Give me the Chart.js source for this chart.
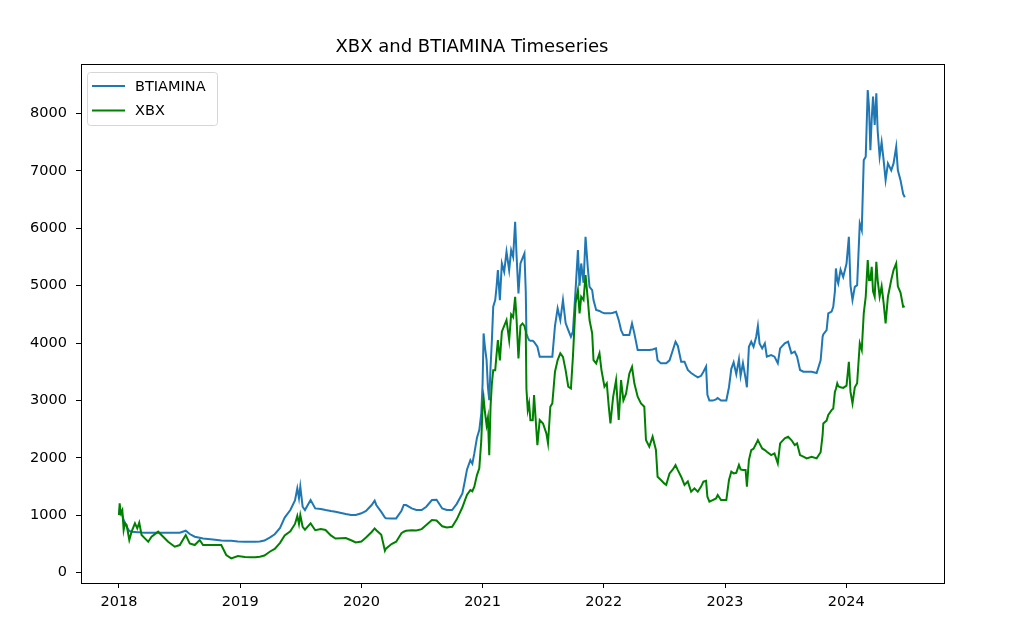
<!DOCTYPE html>
<html>
<head>
<meta charset="utf-8">
<title>XBX and BTIAMINA Timeseries</title>
<script src="https://cdn.jsdelivr.net/npm/chart.js@4.4.1/dist/chart.umd.min.js"></script>
<style>
  html, body { margin: 0; padding: 0; background: #fff; }
  #wrap { width: 1009px; height: 631px; }
</style>
</head>
<body>
<div id="wrap"><canvas id="chart" width="1009" height="631"></canvas></div>
<script>
// sample dates (roughly semi-monthly plus the spikes)
const dates2018 = ['2018-01-01','2018-01-03','2018-01-06','2018-01-11','2018-01-15','2018-01-19','2018-01-24','2018-02-01','2018-02-08','2018-02-18','2018-02-25','2018-03-03','2018-03-10','2018-03-20','2018-03-30','2018-04-09','2018-04-29','2018-05-14','2018-05-29','2018-06-18','2018-07-03','2018-07-21','2018-08-02','2018-08-17','2018-09-01','2018-09-11','2018-10-11','2018-11-05','2018-11-20','2018-12-05','2018-12-25'];
const dates2019 = ['2019-01-15','2019-02-01','2019-02-15','2019-03-01','2019-03-15','2019-04-01','2019-04-15','2019-05-01','2019-05-15','2019-06-01','2019-06-15','2019-06-22','2019-06-27','2019-07-01','2019-07-08','2019-07-15','2019-08-01','2019-08-15','2019-09-01','2019-09-15','2019-10-01','2019-10-15','2019-11-01','2019-11-15','2019-12-01','2019-12-15'];
const dates2020 = ['2020-01-01','2020-01-15','2020-02-01','2020-02-10','2020-02-15','2020-03-01','2020-03-12','2020-03-15','2020-04-01','2020-04-15','2020-05-01','2020-05-08','2020-05-15','2020-06-01','2020-06-15','2020-07-01','2020-07-15','2020-08-01','2020-08-15','2020-09-01','2020-09-15','2020-10-01','2020-10-15','2020-11-01','2020-11-08','2020-11-15','2020-11-25','2020-12-01','2020-12-07','2020-12-15','2020-12-22','2020-12-28'];
const dates2021a = ['2021-01-01','2021-01-04','2021-01-08','2021-01-13','2021-01-17','2021-01-21','2021-01-25','2021-01-29','2021-02-02','2021-02-08','2021-02-12','2021-02-16','2021-02-22','2021-02-28','2021-03-07','2021-03-14','2021-03-22','2021-03-28','2021-04-03','2021-04-09','2021-04-13','2021-04-19','2021-04-25','2021-05-01','2021-05-07','2021-05-11','2021-05-13','2021-05-17','2021-05-21','2021-05-25','2021-06-01','2021-06-05','2021-06-15'];
const dates2021b = ['2021-06-22','2021-07-02','2021-07-12','2021-07-17','2021-07-24','2021-07-30','2021-08-07','2021-08-15','2021-08-23','2021-08-31','2021-09-08','2021-09-16','2021-09-24','2021-09-30','2021-10-08','2021-10-15','2021-10-20','2021-10-25','2021-11-01','2021-11-07','2021-11-14','2021-11-19','2021-11-27','2021-12-01','2021-12-09','2021-12-19','2021-12-25'];
const dates2022 = ['2022-01-03','2022-01-10','2022-01-16','2022-01-21','2022-01-29','2022-02-07','2022-02-15','2022-02-22','2022-03-01','2022-03-09','2022-03-19','2022-03-27','2022-04-03','2022-04-13','2022-04-23','2022-05-03','2022-05-08','2022-05-18','2022-05-28','2022-06-07','2022-06-12','2022-06-22','2022-07-02','2022-07-08','2022-07-18','2022-07-28','2022-08-05','2022-08-12','2022-08-22','2022-09-01','2022-09-11','2022-09-21','2022-10-01','2022-10-11','2022-10-21','2022-10-28','2022-11-05','2022-11-09','2022-11-15','2022-11-25','2022-12-05','2022-12-10','2022-12-20'];
const dates2023 = ['2023-01-05','2023-01-13','2023-01-20','2023-01-27','2023-02-04','2023-02-12','2023-02-17','2023-02-24','2023-03-04','2023-03-08','2023-03-14','2023-03-21','2023-03-28','2023-04-05','2023-04-10','2023-04-15','2023-04-23','2023-05-01','2023-05-07','2023-05-20','2023-05-30','2023-06-09','2023-06-16','2023-06-30','2023-07-10','2023-07-20','2023-07-30','2023-08-06','2023-08-15','2023-08-25','2023-09-04','2023-09-19','2023-10-04','2023-10-16','2023-10-22','2023-10-24','2023-11-03','2023-11-08','2023-11-18','2023-11-23','2023-11-28','2023-12-01','2023-12-05','2023-12-08','2023-12-15','2023-12-23'];
const dates2024 = ['2024-01-02','2024-01-09','2024-01-14','2024-01-20','2024-01-27','2024-02-03','2024-02-11','2024-02-17','2024-02-23','2024-02-29','2024-03-06','2024-03-10','2024-03-14','2024-03-18','2024-03-22','2024-03-27','2024-04-01','2024-04-05','2024-04-11','2024-04-17','2024-04-23','2024-04-29','2024-05-06','2024-05-16','2024-05-23','2024-05-31','2024-06-05','2024-06-13','2024-06-21','2024-06-26'];

// BTIAMINA values, same order as the dates
const bti2018 = [1005,1100,1035,1000,918,870,800,726,715,709,705,703,700,697,697,697,697,697,697,697,697,732,674,627,610,595,580,563,557,557,545];
const bti2019 = [540,540,540,545,560,615,670,780,960,1092,1260,1470,1300,1499,1150,1092,1266,1121,1110,1092,1075,1063,1040,1022,1005,1005];
const bti2020 = [1035,1075,1179,1254,1180,1060,960,950,946,946,1080,1180,1179,1120,1092,1092,1150,1266,1270,1120,1092,1092,1200,1380,1585,1800,1960,1900,2078,2350,2484,2774];
const bti2021a = [3300,4168,3936,3704,3238,3006,3587,4052,4633,4749,4981,5271,4749,5387,5242,5590,5271,5619,5500,6114,5560,4865,5387,5474,5561,4900,4168,4100,4052,4040,4040,4020,3936];
const bti2021b = [3763,3763,3763,3763,3763,3763,4300,4604,4400,4749,4350,4227,4111,4200,4923,5620,5000,5387,5050,5853,5300,4981,4923,4750,4576,4560,4540];
const bti2022 = [4518,4518,4518,4518,4530,4545,4400,4227,4140,4140,4140,4344,4170,3879,3879,3879,3879,3879,3890,3908,3700,3647,3648,3648,3700,3880,4024,3950,3677,3677,3532,3480,3440,3403,3430,3500,3590,3100,2999,2999,3020,3045,3000];
const bti2023 = [2999,3231,3552,3665,3460,3720,3430,3650,3384,3231,3937,4024,3937,4111,4298,3995,3908,3995,3764,3790,3764,3648,3908,3995,4024,3822,3850,3764,3532,3503,3502,3502,3480,3700,4110,4150,4226,4517,4550,4633,4900,5300,5100,5040,5280,5150];
const bti2024 = [5387,5851,5000,4750,4980,5010,6084,5968,7187,7245,8409,8100,7361,7900,8293,7800,8351,7700,7245,7500,7187,6839,7130,7010,7130,7419,7010,6839,6600,6540];

// XBX values, same order as the dates
const xbx2018 = [1005,1209,1035,1092,744,860,831,570,715,860,773,872,657,599,540,627,715,627,540,453,482,657,512,482,570,482,482,482,308,250,291];
const xbx2019 = [275,268,268,280,300,370,415,520,650,720,850,990,850,1005,800,750,859,740,760,745,650,595,600,605,565,528];
const xbx2020 = [545,615,710,772,740,660,383,420,500,540,690,714,730,740,735,760,830,917,910,810,790,800,930,1140,1250,1360,1440,1420,1500,1700,1817,2300];
const xbx2021a = [2900,3050,2800,2571,2700,2049,2900,3300,3529,3529,3800,4052,3700,4200,4300,4400,4050,4500,4450,4807,4450,3733,4300,4342,4300,4200,3200,2834,2950,2658,2658,3093,2223];
const xbx2021b = [2660,2600,2428,2254,2892,2950,3502,3705,3821,3760,3530,3240,3210,3760,4692,4923,4518,4807,4750,5186,4750,4402,4170,3705,3647,3821,3530];
const xbx2022 = [3240,3300,2892,2602,3060,3356,2660,3356,3003,3120,3472,3588,3300,3066,2950,2892,2312,2196,2370,2138,1672,1614,1556,1530,1730,1800,1876,1788,1673,1530,1590,1411,1470,1411,1500,1586,1600,1324,1237,1266,1295,1354,1266];
const xbx2023 = [1266,1615,1760,1730,1740,1876,1800,1790,1790,1498,1963,2137,2160,2250,2311,2253,2165,2137,2108,2050,2079,1905,2253,2340,2369,2311,2224,2253,2050,2021,1992,2020,1992,2100,2400,2601,2650,2750,2833,2860,3152,3200,3297,3250,3230,3220];
const xbx2024 = [3260,3674,3150,2949,3230,3300,3997,3880,4518,4810,5446,5100,5100,5330,4900,4808,5417,5098,4808,4990,4700,4344,4808,5098,5272,5388,4990,4880,4634,4640];

const yearTicks = [2018, 2019, 2020, 2021, 2022, 2023, 2024];
const valueTicks = [0, 1000, 2000, 3000, 4000, 5000, 6000, 7000, 8000];

const dates = [].concat(dates2018, dates2019, dates2020, dates2021a, dates2021b, dates2022, dates2023, dates2024);
const btiamina = [].concat(bti2018, bti2019, bti2020, bti2021a, bti2021b, bti2022, bti2023, bti2024);
const xbx = [].concat(xbx2018, xbx2019, xbx2020, xbx2021a, xbx2021b, xbx2022, xbx2023, xbx2024);

const FONT = '"DejaVu Sans", sans-serif';

// date string -> fractional year, so a linear axis can be used (no date adapter)
function toYear(s) {
  const [y, m, d] = s.split('-').map(Number);
  const start = Date.UTC(y, 0, 1);
  const end = Date.UTC(y + 1, 0, 1);
  return y + (Date.UTC(y, m - 1, d) - start) / (end - start);
}

const toPoints = values => dates.map((d, i) => ({ x: toYear(d), y: values[i] }));

// box around the axes like matplotlib spines
const frame = {
  id: 'frame',
  afterDatasetsDraw(chart) {
    const { ctx, chartArea: a } = chart;
    ctx.save();
    ctx.strokeStyle = '#000';
    ctx.lineWidth = 1;
    ctx.strokeRect(Math.round(a.left) + 0.5, Math.round(a.top) + 0.5,
      Math.round(a.right - a.left), Math.round(a.bottom - a.top));
    ctx.restore();
  }
};

// legend in the upper left corner inside the axes
const insideLegend = {
  id: 'insideLegend',
  afterDraw(chart) {
    const { ctx, chartArea: a } = chart;
    const x = a.left + 6.5, y = a.top + 8.5, w = 130, h = 53;
    ctx.save();
    ctx.beginPath();
    ctx.roundRect(x, y, w, h, 3);
    ctx.fillStyle = 'rgba(255,255,255,0.8)';
    ctx.fill();
    ctx.strokeStyle = '#d6d6d6';
    ctx.lineWidth = 1;
    ctx.stroke();
    ctx.font = '14.5px ' + FONT;
    ctx.textBaseline = 'middle';
    chart.data.datasets.forEach((ds, i) => {
      const ly = a.top + 22 + i * 24.5;
      ctx.strokeStyle = ds.borderColor;
      ctx.lineWidth = 2;
      ctx.beginPath();
      ctx.moveTo(a.left + 11, ly);
      ctx.lineTo(a.left + 44, ly);
      ctx.stroke();
      ctx.fillStyle = '#000';
      ctx.fillText(ds.label, a.left + 54, ly + 1);
    });
    ctx.restore();
  }
};

new Chart(document.getElementById('chart'), {
  type: 'line',
  data: {
    datasets: [
      { label: 'BTIAMINA', data: toPoints(btiamina), borderColor: '#1f77b4', borderWidth: 2, pointRadius: 0, tension: 0, order: 1 },
      { label: 'XBX', data: toPoints(xbx), borderColor: '#008000', borderWidth: 2, pointRadius: 0, tension: 0, order: 0 }
    ]
  },
  options: {
    responsive: false,
    animation: false,
    layout: { padding: { left: 0, right: 65, top: 0, bottom: 0 } },
    plugins: {
      legend: { display: false },
      tooltip: { enabled: false },
      title: {
        display: true,
        text: 'XBX and BTIAMINA Timeseries',
        color: '#000',
        font: { family: FONT, size: 18, weight: 'normal' },
        padding: { top: 37, bottom: 5.4 }
      }
    },
    scales: {
      x: {
        type: 'linear',
        min: 2018 - 38 / 121.2,
        max: 2018 + 825 / 121.2,
        border: { display: false },
        grid: { drawOnChartArea: false, drawTicks: true, tickLength: 5, color: '#000' },
        afterBuildTicks: axis => { axis.ticks = yearTicks.map(v => ({ value: v })); },
        afterFit: axis => { axis.height = 48; },
        ticks: {
          color: '#000',
          padding: 6,
          maxRotation: 0,
          font: { family: FONT, size: 14.5 },
          callback: v => String(v)
        }
      },
      y: {
        min: -179,
        max: 8862,
        border: { display: false },
        grid: { drawOnChartArea: false, drawTicks: true, tickLength: 5, color: '#000' },
        afterBuildTicks: axis => { axis.ticks = valueTicks.map(v => ({ value: v })); },
        afterFit: axis => { axis.width = 81; },
        ticks: {
          color: '#000',
          padding: 9,
          font: { family: FONT, size: 14.5 },
          callback: v => String(v)
        }
      }
    }
  },
  plugins: [frame, insideLegend]
});
</script>
</body>
</html>
